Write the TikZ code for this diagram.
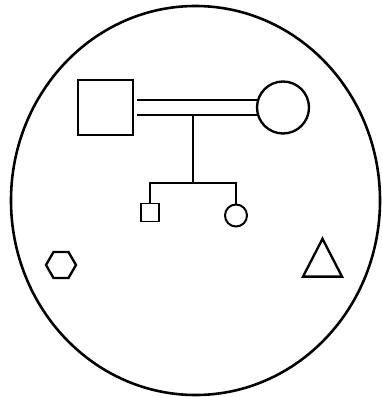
\documentclass[tikz,border=0pt]{standalone}
\usetikzlibrary{shapes.geometric}

\begin{document}
\begin{tikzpicture}[x=0.03cm,y=-0.03cm]
\tikzset{
  pednode/.style={draw=black,line width=2pt,inner sep=0pt,fill=white},
  male/.style={pednode,rectangle,minimum size=#1},
  female/.style={pednode,circle,minimum size=#1},
  pedline/.style={draw=black,line width=2pt,line cap=butt,line join=miter}
}
\useasboundingbox (0,0) rectangle (381,397);
\node[draw=black,line width=2.2pt,ellipse,inner sep=0pt,minimum width=11.07cm,minimum height=11.67cm] (n_ring) at (195.5,200.5) {};
\node[male=1.65cm] (n_father) at (105.5,107.5) {};
\node[female=1.56cm] (n_mother) at (283,107.5) {};
\node[male=0.54cm,line width=1.7pt] (n_son) at (150,212.5) {};
\node[female=0.66cm,line width=1.7pt] (n_daughter) at (236,215.5) {};
\node[pednode,regular polygon,regular polygon sides=6,minimum size=0.9cm] (n_hex) at (61,265) {};
\node[pednode,regular polygon,regular polygon sides=3,minimum size=1.35cm,yscale=1.12] (n_tri) at (322.5,264) {};
\coordinate (n_mate) at (193,114);
\coordinate (n_sib) at (193,183);
\draw[pedline] ([xshift=0.09cm]n_father.east |- n_mother.164) -- (n_mother.164);
\draw[pedline] ([xshift=0.09cm]n_father.east |- n_mother.196) -- (n_mother.196);
\draw[pedline] (n_mate) -- (n_sib);
\draw[pedline] (n_son.north) |- (n_sib) -| (n_daughter.north);
\end{tikzpicture}
\end{document}
